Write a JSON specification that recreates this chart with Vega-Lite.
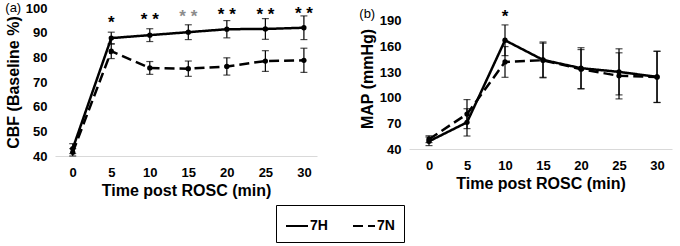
{
  "$schema": "https://vega.github.io/schema/vega-lite/v6.json",
  "background": "white",
  "padding": {"top": 2, "left": 5, "right": 5, "bottom": 3},
  "spacing": 42,
  "config": {
    "font": "Liberation Sans",
    "view": {"stroke": null},
    "axis": {"grid": false, "ticks": false, "labelOverlap": false, "labelFont": "Liberation Sans", "labelFontWeight": "bold", "labelFontSize": 13, "labelColor": "#000", "titleFont": "Liberation Sans", "titleFontWeight": "bold", "titleFontSize": 16, "titleColor": "#000"},
    "axisX": {"domainColor": "#d9d9d9", "domainWidth": 1, "labelPadding": 10, "titlePadding": 3},
    "axisY": {"domain": false, "labelPadding": 8, "titlePadding": 4},
    "title": {"font": "Liberation Sans", "fontSize": 13, "fontWeight": "normal", "color": "#000", "anchor": "start", "frame": "bounds"}
  },
  "datasets": {
    "cbf": [
      {"time": 0, "group": "7H", "mean": 43.0, "err": 2.0},
      {"time": 5, "group": "7H", "mean": 87.8, "err": 2.4},
      {"time": 10, "group": "7H", "mean": 89.0, "err": 2.6},
      {"time": 15, "group": "7H", "mean": 90.2, "err": 3.0},
      {"time": 20, "group": "7H", "mean": 91.4, "err": 3.5},
      {"time": 25, "group": "7H", "mean": 91.5, "err": 4.2},
      {"time": 30, "group": "7H", "mean": 92.0, "err": 4.8},
      {"time": 0, "group": "7N", "mean": 41.5, "err": 1.5},
      {"time": 5, "group": "7N", "mean": 82.5, "err": 3.0},
      {"time": 10, "group": "7N", "mean": 75.7, "err": 2.6},
      {"time": 15, "group": "7N", "mean": 75.4, "err": 3.1},
      {"time": 20, "group": "7N", "mean": 76.3, "err": 3.5},
      {"time": 25, "group": "7N", "mean": 78.5, "err": 4.2},
      {"time": 30, "group": "7N", "mean": 78.8, "err": 4.9}
    ],
    "map": [
      {"time": 0, "group": "7H", "mean": 49.0, "err": 5.0},
      {"time": 5, "group": "7H", "mean": 71.2, "err": 16.0},
      {"time": 10, "group": "7H", "mean": 167.4, "err": 18.0},
      {"time": 15, "group": "7H", "mean": 144.4, "err": 21.0},
      {"time": 20, "group": "7H", "mean": 134.7, "err": 24.0},
      {"time": 25, "group": "7H", "mean": 130.4, "err": 27.0},
      {"time": 30, "group": "7H", "mean": 124.5, "err": 30.0},
      {"time": 0, "group": "7N", "mean": 51.5, "err": 4.0},
      {"time": 5, "group": "7N", "mean": 80.9, "err": 17.0},
      {"time": 10, "group": "7N", "mean": 142.0, "err": 18.0},
      {"time": 15, "group": "7N", "mean": 144.0, "err": 20.0},
      {"time": 20, "group": "7N", "mean": 133.5, "err": 23.0},
      {"time": 25, "group": "7N", "mean": 125.7, "err": 27.0},
      {"time": 30, "group": "7N", "mean": 124.5, "err": 30.0}
    ],
    "starsA": [
      {"time": 5, "mean": 95.6, "label": "*", "tone": "dark"},
      {"time": 10, "mean": 96.9, "label": "* *", "tone": "dark"},
      {"time": 15, "mean": 97.9, "label": "* *", "tone": "light"},
      {"time": 20, "mean": 98.9, "label": "* *", "tone": "dark"},
      {"time": 25, "mean": 98.9, "label": "* *", "tone": "dark"},
      {"time": 30, "mean": 99.2, "label": "* *", "tone": "dark"}
    ],
    "starsB": [
      {"time": 10, "mean": 199.7, "label": "*", "tone": "dark"}
    ]
  },
  "hconcat": [
    {
      "title": {"text": "(a)", "offset": -13},
      "width": 262,
      "height": 148,
      "encoding": {
        "x": {"field": "time", "type": "quantitative", "scale": {"domain": [-2.3, 31.7], "nice": false, "zero": false}, "axis": {"values": [0, 5, 10, 15, 20, 25, 30], "title": "Time post ROSC (min)"}},
        "y": {"field": "mean", "type": "quantitative", "scale": {"domain": [40, 100], "nice": false, "zero": false}, "axis": {"values": [40, 50, 60, 70, 80, 90, 100], "title": "CBF (Baseline %)"}}
      },
      "layer": [
        {
          "data": {"name": "cbf"},
          "mark": {"type": "errorbar", "ticks": {"size": 7, "thickness": 1.2, "color": "#000"}, "rule": {"strokeWidth": 1.2, "color": "#000"}},
          "encoding": {"yError": {"field": "err"}}
        },
        {
          "data": {"name": "cbf"},
          "mark": {"type": "line", "color": "#000", "strokeWidth": 2.5},
          "encoding": {
            "strokeDash": {"field": "group", "type": "nominal", "scale": {"domain": ["7H", "7N"], "range": [[1, 0], [10, 5]]},
              "legend": {"title": null, "orient": "none", "legendX": 221, "legendY": 197, "direction": "horizontal", "strokeColor": "#000", "padding": 9, "labelFontSize": 14, "labelFontWeight": "bold", "labelFont": "Liberation Sans", "labelColor": "#000", "labelOffset": 1, "symbolType": "stroke", "symbolStrokeColor": "#000", "symbolStrokeWidth": 2, "symbolSize": 484, "symbolDash": [6, 3], "columnPadding": 21}}
          }
        },
        {
          "data": {"name": "cbf"},
          "mark": {"type": "point", "filled": true, "color": "#000", "size": 28, "opacity": 1},
          "encoding": {}
        },
        {
          "data": {"name": "starsA"},
          "mark": {"type": "text", "fontSize": 17, "fontWeight": "bold", "baseline": "middle", "dy": 4},
          "encoding": {
            "text": {"field": "label"},
            "color": {"field": "tone", "type": "nominal", "scale": {"domain": ["dark", "light"], "range": ["#000000", "#8c8c8c"]}, "legend": null}
          }
        }
      ]
    },
    {
      "title": {"text": "(b)", "offset": -13},
      "width": 263,
      "height": 141,
      "encoding": {
        "x": {"field": "time", "type": "quantitative", "scale": {"domain": [-2.63, 31.97], "nice": false, "zero": false}, "axis": {"values": [0, 5, 10, 15, 20, 25, 30], "title": "Time post ROSC (min)"}},
        "y": {"field": "mean", "type": "quantitative", "scale": {"domain": [40, 205.2], "nice": false, "zero": false}, "axis": {"values": [40, 70, 100, 130, 160, 190], "title": "MAP (mmHg)"}}
      },
      "layer": [
        {
          "data": {"name": "map"},
          "mark": {"type": "errorbar", "ticks": {"size": 7, "thickness": 1.2, "color": "#000"}, "rule": {"strokeWidth": 1.2, "color": "#000"}},
          "encoding": {"yError": {"field": "err"}}
        },
        {
          "data": {"name": "map"},
          "mark": {"type": "line", "color": "#000", "strokeWidth": 2.5},
          "encoding": {
            "strokeDash": {"field": "group", "type": "nominal", "scale": {"domain": ["7H", "7N"], "range": [[1, 0], [10, 5]]}}
          }
        },
        {
          "data": {"name": "map"},
          "mark": {"type": "point", "filled": true, "color": "#000", "size": 28, "opacity": 1},
          "encoding": {}
        },
        {
          "data": {"name": "starsB"},
          "mark": {"type": "text", "fontSize": 17, "fontWeight": "bold", "baseline": "middle", "dy": 4},
          "encoding": {
            "text": {"field": "label"},
            "color": {"field": "tone", "type": "nominal", "scale": {"domain": ["dark", "light"], "range": ["#000000", "#8c8c8c"]}, "legend": null}
          }
        }
      ]
    }
  ],
  "resolve": {"scale": {"color": "independent", "y": "independent", "x": "independent"}}
}
